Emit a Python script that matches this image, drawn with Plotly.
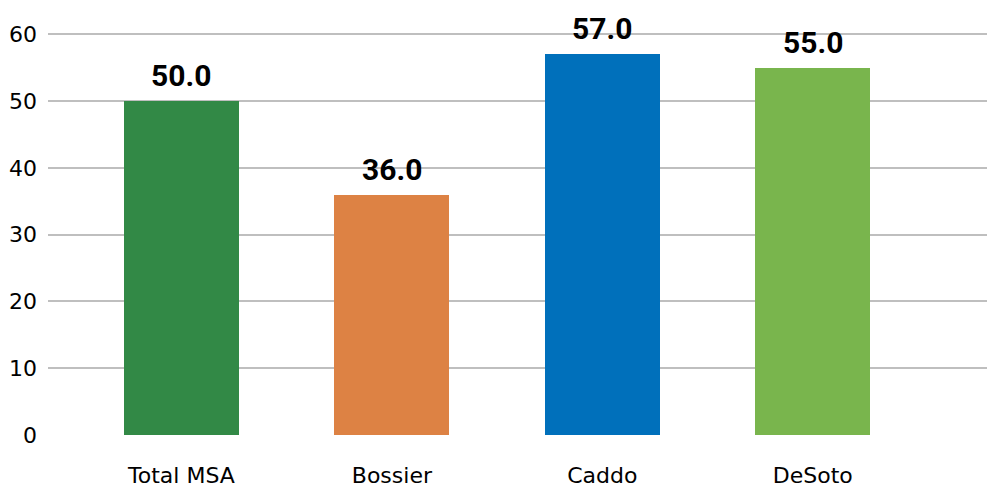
import plotly.graph_objects as go

categories = ["Total MSA", "Bossier", "Caddo", "DeSoto"]
values = [50.0, 36.0, 57.0, 55.0]
colors = ["#328946", "#DD8244", "#0070BB", "#79B54D"]
y_ticks = [0, 10, 20, 30, 40, 50, 60]

xs = list(range(len(categories)))

fig = go.Figure(go.Bar(
    x=xs,
    y=values,
    marker=dict(color=colors, line=dict(width=0)),
    width=0.547,
    hoverinfo="x+y",
))

for x, v in zip(xs, values):
    fig.add_annotation(
        x=x, y=v, text=f"{v:.1f}", showarrow=False,
        xref="x", yref="y", yanchor="bottom", yshift=6,
        font=dict(family="Roboto", size=30, color="#000000", weight="bold"),
    )

fig.update_layout(
    width=987, height=489,
    margin=dict(l=48, r=0, t=21, b=54),
    plot_bgcolor="white", paper_bgcolor="white",
    showlegend=False,
    xaxis=dict(
        tickmode="array", tickvals=xs, ticktext=categories,
        range=[-0.634, 3.828], showgrid=False, zeroline=False, showline=False,
        tickfont=dict(family="DejaVu Sans", size=22, color="#000000"),
        ticks="", ticklabelstandoff=25,
    ),
    yaxis=dict(
        range=[0, 62], tickvals=y_ticks, showgrid=True, gridcolor="#BFBFBF", gridwidth=2,
        zeroline=False, showline=False,
        tickfont=dict(family="DejaVu Sans", size=22, color="#000000"),
        ticks="", ticklabelstandoff=10,
    ),
    bargap=0,
)

fig.write_html("out.html")
